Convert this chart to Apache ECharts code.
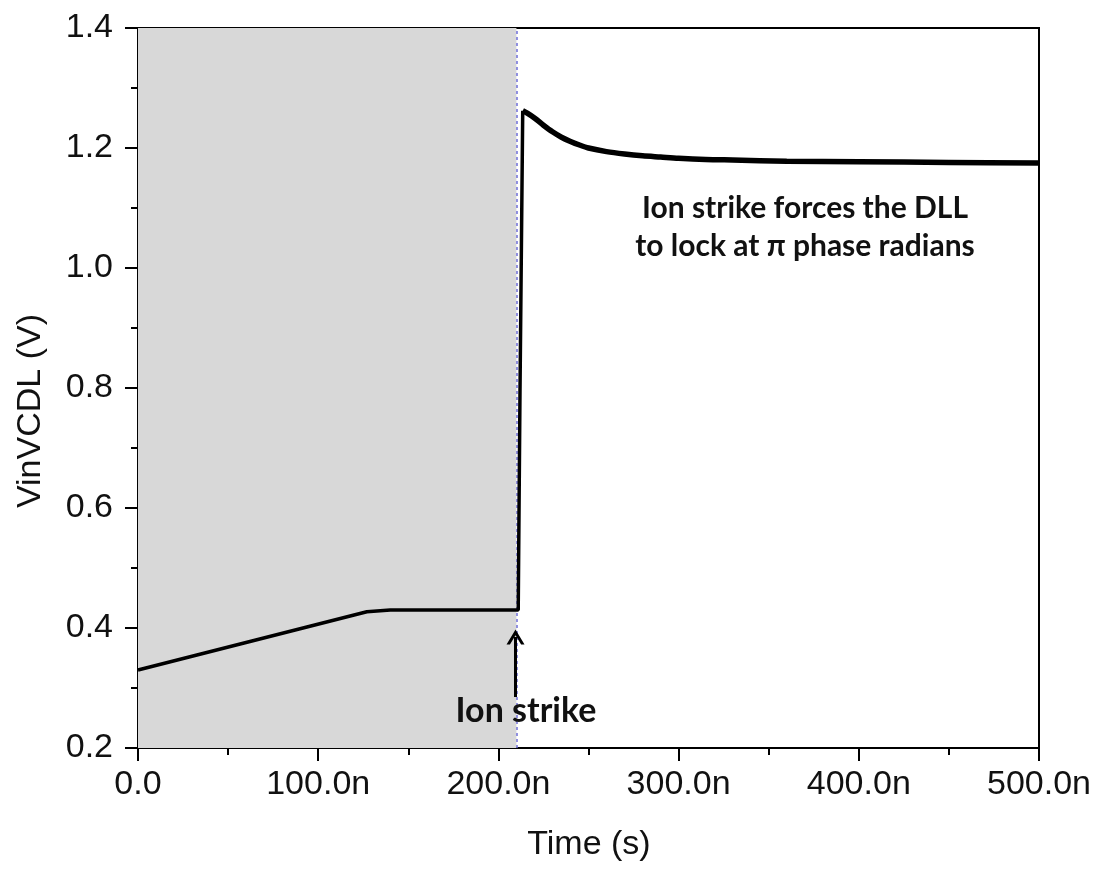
<!DOCTYPE html>
<html>
<head>
<meta charset="utf-8">
<script src="https://cdn.jsdelivr.net/npm/echarts@6/dist/echarts.min.js"></script>
<style>
  html, body { margin: 0; padding: 0; background: #fff; }
  #chart { width: 1099px; height: 872px; }
</style>
</head>
<body>
<div id="chart"></div>
<script>
// Time in ns, VinVCDL in volts
const timeBefore = [0, 127, 140, 211, 212, 213.5];
const vinBefore  = [0.330, 0.427, 0.430, 0.430, 0.80, 1.262];

const timeAfter = [213.5, 216, 220, 225, 230, 235, 240, 245, 250, 260, 270, 280, 290, 300, 315, 330, 360, 400, 450, 500];
const vinAfter  = [1.262, 1.258, 1.250, 1.238, 1.227, 1.218, 1.211, 1.205, 1.200, 1.194, 1.190, 1.187, 1.185, 1.183, 1.181, 1.180, 1.178, 1.177, 1.176, 1.175];

const strikeTime = 210;          // ion strike instant (ns)
const arrowSpan = [0.285, 0.385]; // annotation arrow, volts
const xTicks = [0, 100, 200, 300, 400, 500];
const yTicks = [0.2, 0.4, 0.6, 0.8, 1.0, 1.2, 1.4];

const pairs = (xs, ys) => xs.map((x, i) => [x, ys[i]]);

const chart = echarts.init(document.getElementById('chart'), null, { renderer: 'canvas' });

const tickFont = { fontFamily: '"Liberation Sans", Arial, sans-serif', fontSize: 34, color: '#111' };
const noteFont = '"Lato", "Open Sans", sans-serif';

chart.setOption({
  animation: false,
  backgroundColor: '#fff',
  grid: {
    left: 138, top: 28, right: 60, bottom: 124,
    show: true, borderColor: '#000', borderWidth: 2, backgroundColor: 'transparent'
  },
  xAxis: {
    type: 'value',
    min: xTicks[0], max: xTicks[xTicks.length - 1], interval: 100,
    axisLine: { show: true, lineStyle: { color: '#000', width: 2 } },
    axisTick: { show: true, inside: false, length: 13, lineStyle: { color: '#000', width: 2 } },
    minorTick: { show: true, splitNumber: 2, length: 7, lineStyle: { color: '#000', width: 2 } },
    splitLine: { show: false },
    axisLabel: Object.assign({ margin: 20, formatter: v => v === 0 ? '0.0' : v.toFixed(1) + 'n' }, tickFont)
  },
  yAxis: {
    type: 'value',
    min: yTicks[0], max: yTicks[yTicks.length - 1], interval: 0.2,
    axisLine: { show: true, lineStyle: { color: '#000', width: 2 } },
    axisTick: { show: true, inside: false, length: 13, lineStyle: { color: '#000', width: 2 } },
    minorTick: { show: true, splitNumber: 2, length: 7, lineStyle: { color: '#000', width: 2 } },
    splitLine: { show: false },
    axisLabel: Object.assign({ margin: 25, formatter: v => v.toFixed(1) }, tickFont)
  },
  graphic: [
    {
      type: 'text', x: 589, y: 845, z: 10,
      style: { text: 'Time (s)', textAlign: 'center', textVerticalAlign: 'middle',
               font: '34px "Liberation Sans", Arial, sans-serif', fill: '#111' }
    },
    {
      type: 'text', x: 31, y: 411, rotation: Math.PI / 2, z: 10,
      style: { text: 'VinVCDL (V)', textAlign: 'center', textVerticalAlign: 'middle',
               font: '34px "Liberation Sans", Arial, sans-serif', fill: '#111' }
    },
    {
      type: 'text', x: 805, y: 227, z: 10,
      style: { text: 'Ion strike forces the DLL\nto lock at \u03c0 phase radians',
               textAlign: 'center', textVerticalAlign: 'middle', lineHeight: 38,
               font: 'bold 30px ' + noteFont, fill: '#111' }
    },
    {
      type: 'text', x: 526, y: 711, z: 10,
      style: { text: 'Ion strike', textAlign: 'center', textVerticalAlign: 'middle',
               font: 'bold 34px ' + noteFont, fill: '#111' }
    }
  ],
  series: [
    {
      name: 'before',
      type: 'line',
      data: pairs(timeBefore, vinBefore),
      showSymbol: false,
      lineStyle: { color: '#000', width: 3.5 },
      z: 5,
      markArea: {
        silent: true,
        itemStyle: { color: '#d8d8d8' },
        data: [[{ xAxis: 0 }, { xAxis: strikeTime }]]
      },
      markLine: {
        silent: true,
        symbol: 'none',
        label: { show: false },
        lineStyle: { color: '#6f6fd8', type: [3, 3], width: 1.5 },
        data: [{ xAxis: strikeTime }]
      }
    },
    {
      name: 'after',
      type: 'line',
      data: pairs(timeAfter, vinAfter),
      showSymbol: false,
      smooth: 0.3,
      lineStyle: { color: '#000', width: 5.5 },
      z: 5
    },
    {
      name: 'arrow',
      type: 'line',
      data: [],
      z: 6,
      markLine: {
        silent: true,
        label: { show: false },
        symbol: ['none', 'path://M0,10 L5,0 L10,10 L8.1,10 L5,3.8 L1.9,10 Z'],
        symbolSize: [18, 15],
        lineStyle: { color: '#000', type: 'solid', width: 3 },
        data: [[{ coord: [strikeTime - 0.5, arrowSpan[0]] }, { coord: [strikeTime - 0.5, arrowSpan[1]] }]]
      }
    }
  ]
});
</script>
</body>
</html>
